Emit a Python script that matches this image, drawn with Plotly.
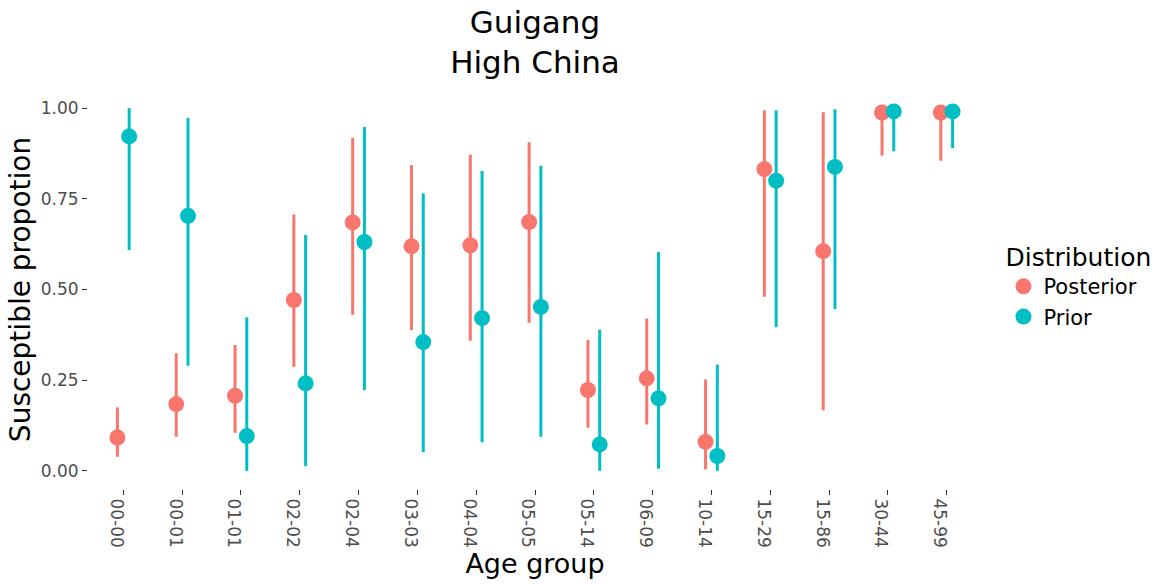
import plotly.graph_objects as go

# Age groups on the x axis
age_groups = ["00-00", "00-01", "01-01", "02-02", "02-04", "03-03", "04-04", "05-05",
              "05-14", "06-09", "10-14", "15-29", "15-86", "30-44", "45-99"]

# Posterior: median and interval bounds
post_mid = [0.092, 0.184, 0.207, 0.471, 0.685, 0.619, 0.622, 0.686,
            0.223, 0.255, 0.080, 0.832, 0.606, 0.988, 0.988]
post_low = [0.039, 0.094, 0.105, 0.287, 0.430, 0.388, 0.359, 0.408,
            0.119, 0.128, 0.004, 0.480, 0.167, 0.869, 0.855]
post_high = [0.175, 0.324, 0.347, 0.707, 0.918, 0.843, 0.872, 0.906,
             0.361, 0.420, 0.252, 0.994, 0.989, 0.999, 0.999]

# Prior: median and interval bounds
prior_mid = [0.922, 0.703, 0.096, 0.241, 0.631, 0.355, 0.421, 0.452,
             0.073, 0.200, 0.041, 0.800, 0.838, 0.991, 0.991]
prior_low = [0.609, 0.290, 0.000, 0.013, 0.223, 0.051, 0.079, 0.094,
             0.000, 0.006, 0.000, 0.396, 0.446, 0.881, 0.890]
prior_high = [1.000, 0.973, 0.423, 0.650, 0.948, 0.765, 0.827, 0.841,
              0.389, 0.603, 0.293, 0.994, 0.997, 1.000, 1.000]

y_ticks = [0, 0.25, 0.5, 0.75, 1.0]
y_tick_labels = ["0.00", "0.25", "0.50", "0.75", "1.00"]

FONT = "DejaVu Sans"
TICK_GREY = "#4D4D4D"


def pointrange(name, mid, low, high, color):
    return go.Scatter(
        x=age_groups,
        y=mid,
        name=name,
        mode="markers",
        marker=dict(color=color, size=16, line=dict(width=0)),
        error_y=dict(
            type="data",
            symmetric=False,
            array=[h - m for h, m in zip(high, mid)],
            arrayminus=[m - l for m, l in zip(mid, low)],
            color=color,
            thickness=3,
            width=0,
        ),
    )


fig = go.Figure()
fig.add_trace(pointrange("Posterior", post_mid, post_low, post_high, "#F8766D"))
fig.add_trace(pointrange("Prior", prior_mid, prior_low, prior_high, "#00BFC4"))

fig.update_layout(
    width=1163,
    height=584,
    margin=dict(l=88, r=181, t=90, b=95, autoexpand=False),
    paper_bgcolor="white",
    plot_bgcolor="white",
    font=dict(family=FONT, color="black"),
    scattermode="group",
    scattergap=0.6,
    title=dict(
        text="Guigang<br>High China",
        x=0.5,
        xref="paper",
        xanchor="center",
        y=0.944,
        yref="container",
        yanchor="top",
        font=dict(family=FONT, size=31, color="black"),
    ),
    legend=dict(
        title=dict(text="Distribution", font=dict(family=FONT, size=25, color="black")),
        font=dict(family=FONT, size=21, color="black"),
        x=1.024,
        xanchor="left",
        y=0.64,
        yanchor="top",
        bgcolor="rgba(0,0,0,0)",
        tracegroupgap=0,
    ),
    showlegend=True,
)

fig.update_xaxes(
    type="category",
    categoryorder="array",
    categoryarray=age_groups,
    range=[-0.6, len(age_groups) - 0.4],
    showgrid=False,
    zeroline=False,
    showline=False,
    ticks="outside",
    ticklen=5,
    tickwidth=1,
    tickcolor="#333333",
    tickangle=90,
    ticklabelshift=-7,
    tickfont=dict(family=FONT, size=17, color=TICK_GREY),
    automargin=False,
    title=dict(text="Age group", font=dict(family=FONT, size=27, color="black"), standoff=4),
)

fig.update_yaxes(
    range=[-0.05, 1.05],
    tickvals=y_ticks,
    ticktext=y_tick_labels,
    showgrid=False,
    zeroline=False,
    showline=False,
    ticks="outside",
    ticklen=5,
    tickwidth=1,
    tickcolor="#333333",
    tickfont=dict(family=FONT, size=17, color=TICK_GREY),
    automargin=False,
    title=dict(text="Susceptible propotion", font=dict(family=FONT, size=28, color="black"), standoff=1),
)

fig.write_html("out.html")
